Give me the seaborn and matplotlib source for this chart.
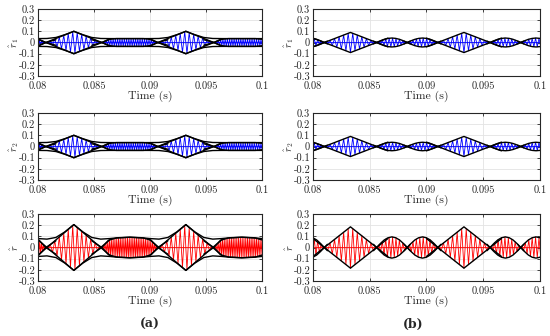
import numpy as np
import pandas as pd
import matplotlib
matplotlib.use("Agg")
import matplotlib.pyplot as plt
import seaborn as sns

# burst peak times (bursts repeat every 10 ms)
peaks_a = [0.0732, 0.0832, 0.0932]
peaks_b = [0.0733, 0.0833, 0.0933]

# triangular burst envelope, tau relative to the peak
tri_tau = [-0.0033, 0.0, 0.0033]
tri_a1 = [-0.032, 0.100, -0.032]
tri_a2 = [-0.032, 0.100, -0.032]
tri_a3 = [-0.077, 0.205, -0.077]
tri_b1 = [-0.039, 0.090, -0.039]
tri_b2 = [-0.039, 0.090, -0.039]
tri_b3 = [-0.080, 0.185, -0.080]

# (a): flat band between two bursts
band_tau = [0.0016, 0.0025, 0.0031, 0.0038, 0.0050, 0.0062, 0.0069, 0.0075, 0.0084]
band_a1 = [-0.025, 0.0, 0.028, 0.035, 0.035, 0.035, 0.028, 0.0, -0.025]
band_a2 = [-0.025, 0.0, 0.028, 0.035, 0.035, 0.035, 0.028, 0.0, -0.025]
band_a3 = [-0.060, 0.0, 0.065, 0.085, 0.092, 0.085, 0.065, 0.0, -0.060]

# (a): total envelope over one period
outer_tau = [0.0, 0.0008, 0.0016, 0.0024, 0.0032, 0.0040, 0.0050,
             0.0060, 0.0068, 0.0076, 0.0084, 0.0092, 0.0100]
outer_a1 = [0.100, 0.070, 0.045, 0.036, 0.035, 0.035, 0.035,
            0.035, 0.035, 0.036, 0.045, 0.070, 0.100]
outer_a2 = [0.100, 0.070, 0.045, 0.036, 0.035, 0.035, 0.035,
            0.035, 0.035, 0.036, 0.045, 0.070, 0.100]
outer_a3 = [0.205, 0.140, 0.090, 0.075, 0.080, 0.088, 0.092,
            0.088, 0.080, 0.075, 0.090, 0.140, 0.205]

# (b): sine-like lobes between bursts (two per period)
lobe_start = [0.0023, 0.0050]
lobe_width = 0.0027
lobe_frac = [-0.1, 0.0, 0.125, 0.25, 0.375, 0.5, 0.625, 0.75, 0.875, 1.0, 1.1]
lobe_shape = [-0.3, 0.0, 0.38, 0.71, 0.92, 1.0, 0.92, 0.71, 0.38, 0.0, -0.3]
lobe_amp = {"b1": 0.040, "b2": 0.038, "b3": 0.095}

# carrier half periods (s)
h_tri = 0.0002
h_band_a = 0.0001
h_band_a3 = 0.00008
h_lobe = 0.00015

xticks = [0.08, 0.085, 0.09, 0.095, 0.1]
xticklabels = ["0.08", "0.085", "0.09", "0.095", "0.1"]
yticks = [-0.3, -0.2, -0.1, 0, 0.1, 0.2, 0.3]
yticklabels = ["-0.3", "-0.2", "-0.1", "0", "0.1", "0.2", "0.3"]
ylabels = [r"$\hat{r}_1$", r"$\hat{r}_2$", r"$\hat{r}$"]

sns.set_style("whitegrid")
plt.rcParams["font.family"] = ["cmr10", "DejaVu Serif"]
plt.rcParams["mathtext.fontset"] = "cm"
plt.rcParams["axes.unicode_minus"] = False


def segs_env(peaks, tau, vals, tag):
    rows = []
    for i, p in enumerate(peaks):
        for s in (1, -1):
            for t, v in zip(tau, vals):
                rows.append({"seg": f"{tag}{i}_{s}", "t": p + t, "v": s * v})
    return rows


def zigzag(times, amps, tag):
    sign = np.where(np.arange(len(times)) % 2 == 0, 1.0, -1.0)
    return pd.DataFrame({"seg": tag, "t": times, "v": sign * amps})


def draw(ax, peaks, tri, band=None, outer=None, lobe=None, color="b", hband=0.0001):
    rows = segs_env(peaks, tri_tau, tri, "T")
    times = np.arange(0.0795, 0.1006, h_tri)
    amp = np.zeros_like(times)
    for p in peaks:
        amp = np.maximum(amp, np.interp(times - p, tri_tau, tri, left=0, right=0))
    carriers = [zigzag(times, np.clip(amp, 0, None), "tri")]

    tb = np.arange(0.07951, 0.1006, hband)
    amp = np.zeros_like(tb)
    if band is not None:
        rows += segs_env(peaks, band_tau, band, "B")
        rows += segs_env(peaks, outer_tau, outer, "O")
        for p in peaks:
            amp = np.maximum(amp, np.interp(tb - p, band_tau, band, left=0, right=0))
    if lobe is not None:
        for p in peaks:
            for k, ls in enumerate(lobe_start):
                lt = [p + ls + f * lobe_width for f in lobe_frac]
                lv = [lobe * s for s in lobe_shape]
                for s in (1, -1):
                    rows += [{"seg": f"L{p}_{k}_{s}", "t": a, "v": s * b} for a, b in zip(lt, lv)]
                amp = np.maximum(amp, np.interp(tb, lt, lv, left=0, right=0))
    carriers.append(zigzag(tb, np.clip(amp, 0, None), "band"))

    car = pd.concat(carriers)
    sns.lineplot(data=car, x="t", y="v", units="seg", estimator=None, sort=False,
                 color=color, lw=0.6, ax=ax)
    env = pd.DataFrame(rows)
    sns.lineplot(data=env, x="t", y="v", units="seg", estimator=None, sort=False,
                 color="k", lw=1.0, ax=ax)


fig = plt.figure(figsize=(5.5, 3.36), dpi=100)
lefts = [38 / 550, 313 / 550]
widths = [224 / 550, 227 / 550]
tops = [9, 113, 214]
panels = [
    [dict(peaks=peaks_a, tri=tri_a1, band=band_a1, outer=outer_a1, color="#0000ff", hband=h_band_a),
     dict(peaks=peaks_b, tri=tri_b1, lobe=lobe_amp["b1"], color="#0000ff", hband=h_lobe)],
    [dict(peaks=peaks_a, tri=tri_a2, band=band_a2, outer=outer_a2, color="#0000ff", hband=h_band_a),
     dict(peaks=peaks_b, tri=tri_b2, lobe=lobe_amp["b2"], color="#0000ff", hband=h_lobe)],
    [dict(peaks=peaks_a, tri=tri_a3, band=band_a3, outer=outer_a3, color="#ff0000", hband=h_band_a3),
     dict(peaks=peaks_b, tri=tri_b3, lobe=lobe_amp["b3"], color="#ff0000", hband=h_lobe)],
]
for r in range(3):
    for c in range(2):
        ax = fig.add_axes([lefts[c], 1 - (tops[r] + 67) / 336, widths[c], 67 / 336])
        draw(ax, **panels[r][c])
        ax.set_xlim(0.08, 0.1)
        ax.set_ylim(-0.3, 0.3)
        ax.set_xticks(xticks)
        ax.set_xticklabels(xticklabels)
        ax.set_yticks(yticks)
        ax.set_yticklabels(yticklabels)
        ax.tick_params(labelsize=7.5, direction="in", length=2, width=0.6,
                       top=True, right=True, left=True, bottom=True)
        ax.tick_params(axis="x", pad=4)
        ax.tick_params(axis="y", pad=2)
        ax.grid(True, color="#e3e3e3", lw=0.6)
        for sp in ax.spines.values():
            sp.set_color("#262626")
            sp.set_linewidth(0.8)
        ax.set_xlabel("Time (s)", fontsize=8.5, labelpad=0)
        ax.set_ylabel(ylabels[r], fontsize=7.5)
        ax.yaxis.set_label_coords(-0.075, 0.5)

fig.text(150 / 550, 1 - 324 / 336, "(a)", ha="center", va="center",
         fontsize=9, fontweight="bold", family="DejaVu Serif")
fig.text(413 / 550, 1 - 324 / 336, "(b)", ha="center", va="center",
         fontsize=9, fontweight="bold", family="DejaVu Serif")
fig.savefig("out.png", dpi=100)
